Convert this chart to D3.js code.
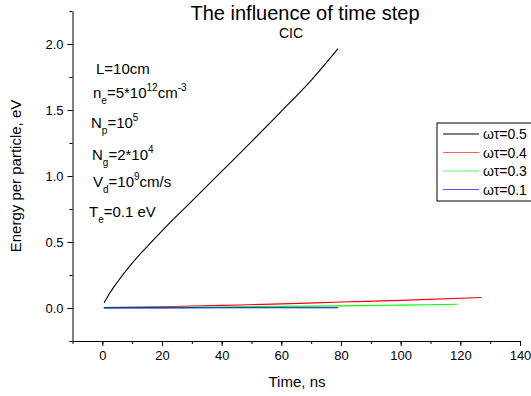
<!DOCTYPE html>
<html>
<head>
<meta charset="utf-8">
<script src="https://cdn.jsdelivr.net/npm/d3@7"></script>
<style>
  body { margin: 0; background: #fff; }
  svg { display: block; font-family: "Liberation Sans", Arial, sans-serif; }
</style>
</head>
<body>
<div id="chart"></div>
<script>
// series data (time in ns, energy in eV)
var blackT = [0.6, 2, 5, 10, 15, 20, 30, 40, 50, 60, 70, 79];
var blackE = [0.04, 0.095, 0.195, 0.34, 0.465, 0.585, 0.81, 1.035, 1.26, 1.49, 1.725, 1.965];
var redT = [0.5, 20, 40, 60, 80, 100, 127];
var redE = [0.003, 0.010, 0.020, 0.031, 0.045, 0.058, 0.080];
var greenT = [0.5, 40, 80, 100, 119];
var greenE = [0.003, 0.008, 0.016, 0.022, 0.028];
var blueT = [0.5, 40, 79];
var blueE = [0.001, 0.0015, 0.002];

var legendLabels = ["ωτ=0.5", "ωτ=0.4", "ωτ=0.3", "ωτ=0.1"];
var xTicks = [0, 20, 40, 60, 80, 100, 120, 140];
var yTicks = [0.0, 0.5, 1.0, 1.5, 2.0];

var series = [
    {name: legendLabels[0], color: "#000000", t: blackT, e: blackE},
    {name: legendLabels[1], color: "#ff0000", t: redT, e: redE},
    {name: legendLabels[2], color: "#00ff00", t: greenT, e: greenE},
    {name: legendLabels[3], color: "#0000ff", t: blueT, e: blueE}
];

var svgWidth = 531;
var svgHeight = 396;

var svg = d3.select("#chart")
    .append("svg")
        .attr("width", svgWidth)
        .attr("height", svgHeight);

// scales
var x = d3.scaleLinear().domain([-10, 140]).range([72.5, 520]);
var y = d3.scaleLinear().domain([-0.25, 2.25]).range([341, 11]);

// x axis, major + minor ticks
svg.append("g")
    .attr("transform", "translate(0," + y(-0.25) + ")")
    .call(d3.axisBottom(x).tickValues(d3.range(-10, 141, 10)).tickSize(3).tickFormat(""))
    .call(function(g){ g.select(".domain").remove(); });
svg.append("g")
    .attr("transform", "translate(0," + y(-0.25) + ")")
    .call(d3.axisBottom(x).tickValues(xTicks).tickSize(5).tickSizeOuter(0).tickPadding(5).tickFormat(d3.format("d")))
    .call(function(g){ g.selectAll("text").attr("font-size", "13px").attr("fill", "#000").attr("font-family", "Liberation Sans, Arial"); });

// y axis, major + minor ticks
svg.append("g")
    .attr("transform", "translate(" + x(-10) + ",0)")
    .call(d3.axisLeft(y).tickValues(d3.range(-0.25, 2.26, 0.25)).tickSize(3).tickFormat(""))
    .call(function(g){ g.select(".domain").remove(); });
svg.append("g")
    .attr("transform", "translate(" + x(-10) + ",0)")
    .call(d3.axisLeft(y).tickValues(yTicks).tickSize(5).tickSizeOuter(0).tickPadding(4).tickFormat(d3.format(".1f")))
    .call(function(g){ g.selectAll("text").attr("font-size", "13px").attr("fill", "#000").attr("font-family", "Liberation Sans, Arial"); });

// curves
var line = d3.line()
    .x(function(d){ return x(d[0]); })
    .y(function(d){ return y(d[1]); })
    .curve(d3.curveMonotoneX);

// blue ends up on top at the bottom, as in the original
series.forEach(function(s){
    svg.append("path")
        .datum(d3.zip(s.t, s.e))
        .attr("d", line)
        .attr("fill", "none")
        .attr("stroke", s.color)
        .attr("stroke-width", 1.1);
});

// title
svg.append("text")
    .attr("x", 305).attr("y", 20)
    .attr("text-anchor", "middle")
    .attr("font-size", "20px")
    .text("The influence of time step");
svg.append("text")
    .attr("x", 291).attr("y", 38)
    .attr("text-anchor", "middle")
    .attr("font-size", "14px")
    .text("CIC");

// axis titles
svg.append("text")
    .attr("x", 297).attr("y", 387)
    .attr("text-anchor", "middle")
    .attr("font-size", "15px")
    .text("Time, ns");
svg.append("text")
    .attr("transform", "translate(21," + y(1.0) + ") rotate(-90)")
    .attr("text-anchor", "middle")
    .attr("font-size", "15px")
    .text("Energy per particle, eV");

// parameter notes, pieces: [text, shift] where shift: 0 normal, 1 sub, -1 sup
var notes = [
    {x: 96, y: 74, parts: [["L=10cm", 0]]},
    {x: 93, y: 98, parts: [["n", 0], ["e", 1], ["=5*10", 0], ["12", -1], ["cm", 0], ["-3", -1]]},
    {x: 91, y: 128, parts: [["N", 0], ["p", 1], ["=10", 0], ["5", -1]]},
    {x: 92, y: 160, parts: [["N", 0], ["g", 1], ["=2*10", 0], ["4", -1]]},
    {x: 93, y: 187, parts: [["V", 0], ["d", 1], ["=10", 0], ["9", -1], ["cm/s", 0]]},
    {x: 89, y: 217, parts: [["T", 0], ["e", 1], ["=0.1 eV", 0]]}
];

notes.forEach(function(n){
    var t = svg.append("text")
        .attr("x", n.x).attr("y", n.y)
        .attr("font-size", "15px");
    var prev = 0;
    n.parts.forEach(function(p){
        var off = p[1] == 1 ? 6 : (p[1] == -1 ? -7 : 0);
        t.append("tspan")
            .attr("dy", off - prev)
            .attr("font-size", p[1] == 0 ? "15px" : "10px")
            .text(p[0]);
        prev = off;
    });
});

// legend box (runs off the right edge)
var lg = svg.append("g").attr("transform", "translate(437,123)");
lg.append("rect")
    .attr("x", 0).attr("y", 0)
    .attr("width", 120).attr("height", 78)
    .attr("fill", "#fff")
    .attr("stroke", "#000")
    .attr("stroke-width", 1);
series.forEach(function(s, i){
    var yy = 11 + i * 18.5;
    lg.append("line")
        .attr("x1", 6).attr("x2", 42)
        .attr("y1", yy).attr("y2", yy)
        .attr("stroke", s.color)
        .attr("stroke-opacity", i == 0 ? 1 : 0.65)
        .attr("stroke-width", 1.1);
    lg.append("text")
        .attr("x", 46).attr("y", yy + 5)
        .attr("font-size", "14px")
        .text(s.name);
});
</script>
</body>
</html>
